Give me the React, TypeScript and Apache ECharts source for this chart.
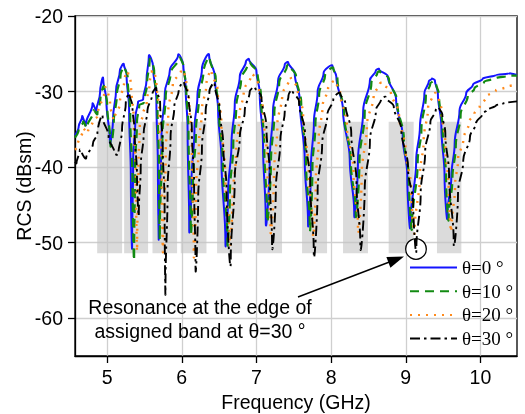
import React, { useEffect, useRef } from "react";
import * as echarts from "echarts";

const xTicks = [5, 6, 7, 8, 9, 10];
const yTicks = [-60, -50, -40, -30, -20];
const seriesNames = ["θ=0 °", "θ=10 °", "θ=20 °", "θ=30 °"];

const bandStart = [4.867, 5.228, 5.608, 5.987, 6.473, 7.008, 7.611, 8.16, 8.771, 9.418];
const bandEnd = [5.201, 5.549, 5.937, 6.331, 6.808, 7.343, 7.946, 8.494, 9.106, 9.745];
const bandTop = -34;
const bandBottom = -51.4;

const theta0 = [
  [4.57, -35.8], [4.62, -34.6], [4.666, -33.3], [4.715, -34.4], [4.805, -31.6], [4.858, -32.5], [4.905, -30.2], [4.947, -28.3],
  [4.99, -31.2], [5.037, -36.6], [5.08, -33.5], [5.12, -29.8], [5.17, -27.3], [5.224, -26.4], [5.26, -27.6], [5.295, -32.5],
  [5.318, -41.3], [5.335, -50.0], [5.349, -39.1], [5.38, -33.3], [5.415, -31.3], [5.482, -31.1], [5.528, -28.5], [5.559, -25.3],
  [5.616, -26.7], [5.66, -31.1], [5.68, -40.0], [5.692, -48.8], [5.729, -35.5], [5.773, -30.2], [5.84, -27.2], [5.951, -25.2],
  [6.02, -26.5], [6.05, -29.0], [6.078, -35.0], [6.1, -48.1], [6.13, -42.0], [6.17, -35.0], [6.21, -30.5], [6.27, -27.0],
  [6.366, -25.2], [6.442, -28.0], [6.487, -32.5], [6.532, -39.1], [6.585, -49.9], [6.62, -43.5], [6.666, -36.9], [6.71, -31.6],
  [6.777, -28.0], [6.86, -26.0], [6.9, -25.7], [6.999, -27.2], [7.044, -30.2], [7.088, -36.9], [7.125, -47.0], [7.178, -39.1],
  [7.222, -32.5], [7.29, -28.5], [7.38, -26.4], [7.424, -26.1], [7.513, -27.6], [7.58, -31.1], [7.647, -39.1], [7.691, -47.2],
  [7.73, -40.0], [7.77, -34.0], [7.82, -30.0], [7.9, -27.5], [8.018, -26.6], [8.07, -28.0], [8.16, -32.5], [8.25, -39.0],
  [8.31, -46.0], [8.36, -39.1], [8.43, -32.5], [8.52, -28.5], [8.6, -27.2], [8.642, -27.0], [8.76, -28.0], [8.87, -31.0],
  [8.96, -36.0], [9.02, -41.0], [9.06, -47.5], [9.14, -39.1], [9.19, -34.7], [9.25, -30.2], [9.31, -28.6], [9.351, -28.3],
  [9.39, -28.5], [9.43, -30.2], [9.477, -34.7], [9.52, -41.3], [9.557, -46.4], [9.61, -41.3], [9.655, -36.9], [9.72, -32.5],
  [9.81, -30.2], [9.9, -29.1], [10.03, -28.3], [10.21, -27.8], [10.39, -27.6], [10.49, -27.8],
];

const theta10 = [
  [4.57, -36.1], [4.62, -35.0], [4.68, -34.0], [4.73, -34.8], [4.82, -32.5], [4.87, -33.0], [4.91, -31.0], [4.96, -29.4],
  [5.0, -31.5], [5.045, -37.0], [5.09, -34.0], [5.13, -30.5], [5.18, -27.8], [5.237, -26.8], [5.275, -28.0], [5.31, -33.0],
  [5.34, -42.0], [5.362, -51.5], [5.375, -40.0], [5.4, -34.0], [5.43, -31.8], [5.49, -31.5], [5.535, -29.0], [5.57, -25.8],
  [5.63, -27.2], [5.675, -31.8], [5.695, -40.0], [5.706, -48.8], [5.74, -36.0], [5.785, -30.6], [5.85, -27.6], [5.96, -25.6],
  [6.03, -26.9], [6.06, -29.5], [6.09, -35.0], [6.12, -48.3], [6.15, -42.0], [6.19, -35.2], [6.23, -30.8], [6.29, -27.4],
  [6.375, -25.6], [6.455, -28.3], [6.5, -32.8], [6.55, -39.3], [6.612, -49.8], [6.645, -43.5], [6.69, -37.0], [6.73, -32.0],
  [6.795, -28.4], [6.88, -26.4], [6.915, -26.1], [7.015, -27.5], [7.06, -30.5], [7.105, -37.0], [7.142, -46.6], [7.195, -39.3],
  [7.24, -32.8], [7.305, -28.8], [7.41, -26.6], [7.435, -26.4], [7.53, -27.9], [7.6, -31.5], [7.665, -39.3], [7.714, -47.8],
  [7.75, -40.2], [7.79, -34.3], [7.84, -30.3], [7.92, -27.8], [8.03, -26.9], [8.085, -28.3], [8.175, -32.8], [8.265, -39.2],
  [8.33, -46.0], [8.38, -39.3], [8.45, -32.8], [8.54, -28.8], [8.62, -27.5], [8.655, -27.3], [8.775, -28.3], [8.885, -31.3],
  [8.975, -36.3], [9.04, -41.2], [9.083, -47.7], [9.16, -39.3], [9.21, -35.0], [9.27, -30.5], [9.33, -28.9], [9.365, -28.6],
  [9.405, -28.8], [9.445, -30.5], [9.495, -35.0], [9.54, -41.5], [9.575, -46.6], [9.625, -41.5], [9.67, -37.2], [9.735, -33.0],
  [9.83, -30.6], [9.92, -29.6], [10.05, -28.7], [10.21, -28.2], [10.39, -27.9], [10.49, -27.9],
];

const theta20 = [
  [4.57, -37.7], [4.6, -37.3], [4.68, -34.9], [4.74, -35.5], [4.81, -33.8], [4.87, -33.3], [4.97, -29.6], [5.04, -31.6],
  [5.1, -33.6], [5.17, -31.6], [5.23, -28.5], [5.28, -27.4], [5.32, -29.0], [5.355, -33.5], [5.385, -41.0], [5.402, -50.3],
  [5.42, -40.0], [5.438, -34.5], [5.48, -33.0], [5.53, -31.5], [5.57, -28.8], [5.6, -27.3], [5.66, -28.6], [5.7, -33.0],
  [5.73, -40.0], [5.75, -50.3], [5.785, -38.0], [5.82, -32.5], [5.88, -29.0], [5.99, -27.2], [6.06, -28.5], [6.1, -31.5],
  [6.135, -37.0], [6.161, -51.2], [6.19, -43.0], [6.23, -37.0], [6.27, -32.5], [6.33, -29.0], [6.4, -27.3], [6.48, -29.8],
  [6.53, -34.0], [6.58, -40.5], [6.643, -49.9], [6.68, -44.0], [6.725, -38.5], [6.77, -33.3], [6.83, -30.0], [6.93, -27.8],
  [7.03, -29.2], [7.085, -32.2], [7.14, -38.8], [7.188, -48.1], [7.235, -41.0], [7.28, -34.5], [7.345, -30.5], [7.44, -28.3],
  [7.46, -28.1], [7.55, -29.6], [7.625, -33.0], [7.7, -40.5], [7.758, -48.6], [7.795, -42.0], [7.835, -36.0], [7.885, -32.0],
  [7.96, -29.5], [8.06, -28.6], [8.12, -30.0], [8.21, -34.3], [8.3, -40.5], [8.36, -48.1], [8.41, -41.0], [8.48, -34.5],
  [8.57, -30.5], [8.65, -29.0], [8.68, -28.8], [8.8, -30.0], [8.91, -33.0], [9.0, -38.0], [9.07, -42.5], [9.12, -48.3],
  [9.19, -41.0], [9.24, -36.5], [9.3, -32.0], [9.36, -30.5], [9.4, -30.2], [9.44, -30.8], [9.48, -32.5], [9.53, -37.0],
  [9.575, -43.0], [9.611, -48.1], [9.66, -42.5], [9.7, -39.0], [9.77, -36.4], [9.85, -34.0], [9.92, -32.9], [9.99, -32.0],
  [10.08, -30.7], [10.21, -29.8], [10.35, -29.4], [10.49, -29.1],
];

const theta30 = [
  [4.57, -39.3], [4.59, -39.5], [4.635, -37.7], [4.66, -38.0], [4.72, -38.8], [4.81, -36.9], [4.87, -35.5], [4.94, -33.3],
  [5.02, -36.0], [5.1, -38.2], [5.15, -38.4], [5.2, -35.0], [5.25, -31.5], [5.3, -30.3], [5.34, -32.0], [5.37, -35.5],
  [5.4, -41.0], [5.425, -46.0], [5.45, -40.0], [5.49, -35.5], [5.54, -32.5], [5.6, -30.5], [5.66, -29.6], [5.71, -31.5],
  [5.745, -37.0], [5.77, -45.0], [5.782, -55.9], [5.81, -43.0], [5.85, -36.0], [5.9, -32.0], [5.96, -29.8], [6.03, -28.8],
  [6.09, -30.5], [6.135, -35.0], [6.165, -42.0], [6.184, -53.0], [6.22, -44.0], [6.27, -37.5], [6.32, -32.5], [6.37, -30.0],
  [6.44, -28.9], [6.51, -32.5], [6.555, -37.0], [6.6, -43.0], [6.656, -52.3], [6.71, -41.3], [6.777, -36.0], [6.844, -32.5],
  [6.91, -30.0], [6.98, -29.4], [7.067, -30.7], [7.134, -34.7], [7.18, -41.3], [7.209, -50.2], [7.26, -43.0], [7.32, -36.5],
  [7.38, -32.5], [7.43, -30.5], [7.48, -29.8], [7.57, -31.3], [7.65, -35.5], [7.72, -42.0], [7.768, -51.2], [7.82, -43.0],
  [7.88, -37.0], [7.95, -33.0], [8.03, -31.0], [8.12, -30.2], [8.19, -31.5], [8.27, -35.5], [8.34, -42.0], [8.392, -50.3],
  [8.45, -43.0], [8.52, -36.5], [8.6, -32.5], [8.67, -31.0], [8.73, -30.7], [8.84, -32.0], [8.94, -35.0], [9.03, -40.0],
  [9.1, -45.0], [9.142, -50.8], [9.2, -43.5], [9.26, -38.0], [9.33, -34.0], [9.4, -32.5], [9.445, -32.1], [9.49, -33.0],
  [9.53, -35.5], [9.58, -41.0], [9.642, -49.9], [9.7, -43.5], [9.77, -39.1], [9.86, -36.0], [9.94, -34.2], [10.03, -32.9],
  [10.08, -32.5], [10.21, -31.8], [10.3, -31.6], [10.49, -31.3],
];

const SANS = '"Liberation Sans", Arial, sans-serif';
const SERIF = '"Liberation Serif", "Times New Roman", serif';

export default function App() {
  const ref = useRef<HTMLDivElement>(null);
  useEffect(() => {
    const chart = echarts.init(ref.current!, null, { renderer: "svg" });
    const lineSeries = (name: string, data: number[][], color: string, width: number, type: any) => ({
      name,
      type: "line",
      data,
      symbol: "none",
      smooth: 0.4,
      smoothMonotone: "y",
      z: 3,
      clip: true,
      lineStyle: { color, width, type },
      itemStyle: { color },
    });
    chart.setOption({
      animation: false,
      grid: {
        left: 75,
        top: 16,
        right: 8,
        bottom: 58,
        show: true,
        containLabel: false,
        outerBoundsMode: "none",
        borderColor: "#000",
        borderWidth: 1.3,
        backgroundColor: "transparent",
      },
      xAxis: {
        type: "value",
        min: 4.57,
        max: 10.49,
        name: "Frequency (GHz)",
        nameLocation: "middle",
        nameGap: 36,
        nameMoveOverlap: false,
        nameTextStyle: { fontFamily: SANS, fontSize: 19.5, color: "#000" },
        axisLine: { show: true, lineStyle: { color: "#000", width: 1.3 } },
        axisTick: { show: true, inside: false, length: 7, customValues: xTicks, lineStyle: { color: "#000", width: 1.3 } },
        axisLabel: { customValues: xTicks, margin: 11, fontFamily: SANS, fontSize: 19.5, color: "#000" },
        splitLine: { show: true, lineStyle: { color: "#cfcfcf", width: 1.3 } },
      },
      yAxis: {
        type: "value",
        min: -65,
        max: -20,
        name: "RCS (dBsm)",
        nameLocation: "middle",
        nameGap: 41,
        nameMoveOverlap: false,
        nameTextStyle: { fontFamily: SANS, fontSize: 19.5, color: "#000" },
        axisLine: { show: true, lineStyle: { color: "#000", width: 1.3 } },
        axisTick: { show: true, inside: false, length: 7, customValues: yTicks, lineStyle: { color: "#000", width: 1.3 } },
        axisLabel: { customValues: yTicks, margin: 12, fontFamily: SANS, fontSize: 19.5, color: "#000" },
        splitLine: { show: true, lineStyle: { color: "#cfcfcf", width: 1.3 } },
      },
      legend: {
        data: seriesNames,
        orient: "vertical",
        left: 409,
        top: 258,
        itemWidth: 47,
        itemHeight: 2,
        itemGap: 4.7,
        padding: 0,
        itemStyle: { color: "rgba(0,0,0,0)", borderColor: "rgba(0,0,0,0)", borderWidth: 0, opacity: 0 },
        textStyle: { fontFamily: SERIF, fontSize: 19, color: "#000", lineHeight: 19 },
      },
      series: [
        {
          name: "bands",
          type: "line",
          data: [],
          z: 1,
          silent: true,
          markArea: {
            silent: true,
            itemStyle: { color: "rgba(195,195,195,0.6)" },
            data: bandStart.map((s, i) => [
              { xAxis: s, yAxis: bandTop },
              { xAxis: bandEnd[i], yAxis: bandBottom },
            ]),
          },
        },
        lineSeries(seriesNames[0], theta0, "#1414ff", 2, "solid"),
        lineSeries(seriesNames[1], theta10, "#128a12", 2.2, [9, 6]),
        lineSeries(seriesNames[2], theta20, "#ff8a1c", 2.4, [2, 6]),
        lineSeries(seriesNames[3], theta30, "#000000", 1.9, [10, 4, 2.5, 4]),
      ],
      graphic: {
        elements: [
          {
            type: "circle",
            z: 2,
            shape: { cx: 416, cy: 249, r: 10.3 },
            style: { fill: "#fff", stroke: "#000", lineWidth: 1.3 },
          },
          {
            type: "line",
            z: 10,
            shape: { x1: 298, y1: 297, x2: 392, y2: 261 },
            style: { stroke: "#000", lineWidth: 1.4 },
          },
          {
            type: "polygon",
            z: 10,
            shape: { points: [[404, 256.5], [390.4, 267.8], [386.4, 257.0]] },
            style: { fill: "#000" },
          },
          {
            type: "text",
            z: 10,
            x: 200,
            y: 319,
            style: {
              text: "Resonance at the edge of\nassigned band at θ=30 °",
              fontFamily: SANS,
              fontSize: 19.5,
              lineHeight: 24,
              fill: "#000",
              align: "center",
              verticalAlign: "middle",
            },
          },
        ],
      },
    });
    return () => chart.dispose();
  }, []);
  return <div ref={ref} style={{ position: "fixed", left: 0, top: 0, width: 525, height: 414 }} />;
}
